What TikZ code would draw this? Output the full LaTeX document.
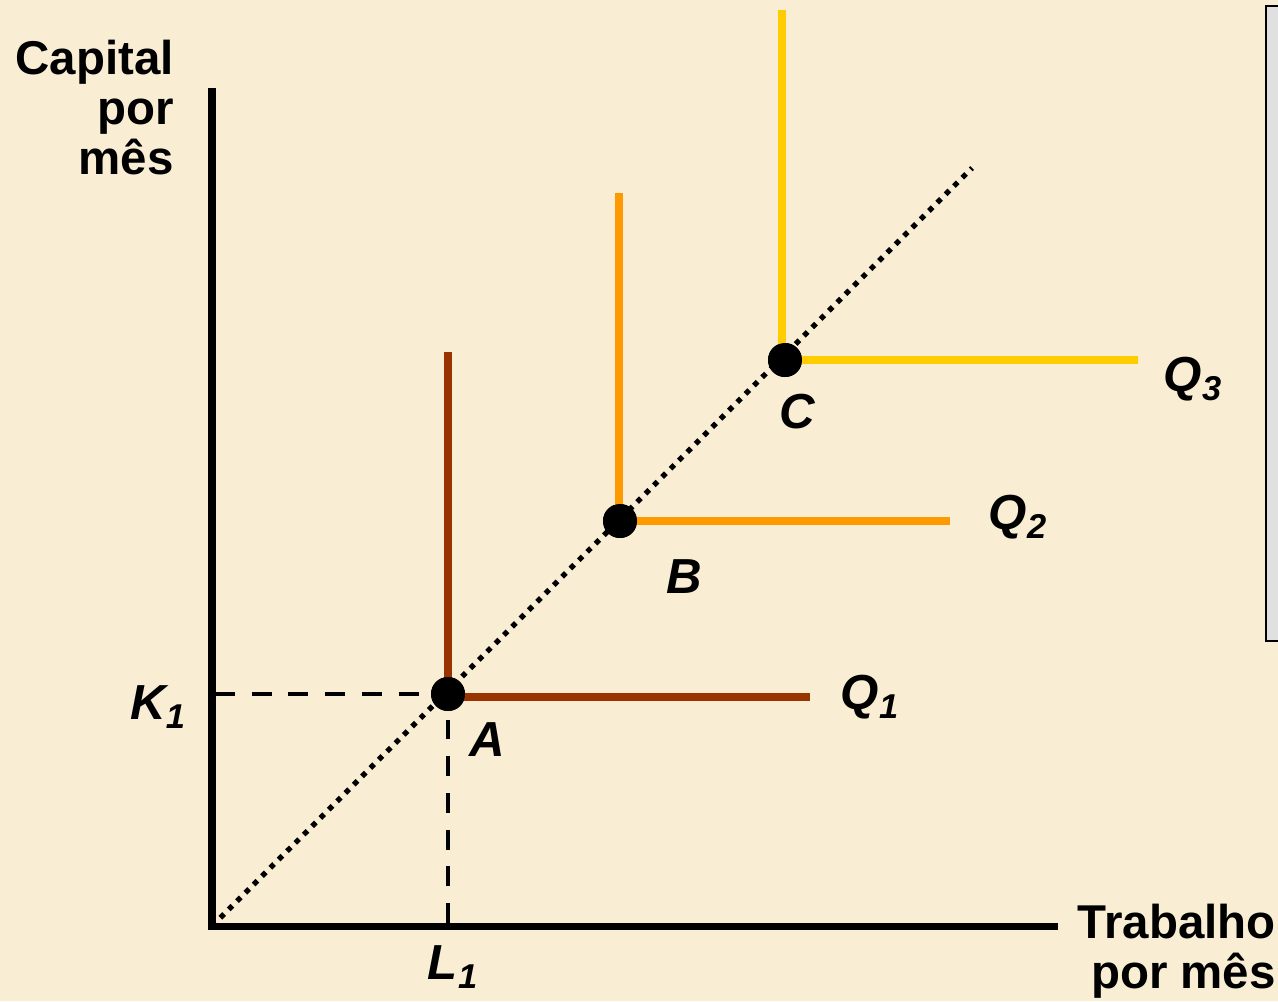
\documentclass[tikz,border=0pt]{standalone}
\usepackage{fontspec}
\setmainfont{Liberation Sans}
\usetikzlibrary{positioning}
\definecolor{paper}{HTML}{F9EED4}
\definecolor{qone}{HTML}{993300}
\definecolor{qtwo}{HTML}{FF9900}
\definecolor{qthree}{HTML}{FFCC00}
\definecolor{boxgray}{HTML}{E0E0E0}
\tikzset{
  axisline/.style={line width=4pt},
  isoq/.style={line width=4.5pt},
  guide/.style={line width=2.8pt,dash pattern=on 11.3pt off 9.6pt},
  ray/.style={line width=3pt,dash pattern=on 3pt off 3.7pt},
  pt/.style={circle,fill=black,inner sep=0pt,minimum size=6.8mm},
  lbl/.style={font=\fontsize{28}{30}\selectfont\bfseries\itshape,inner sep=0pt},
  ttl/.style={font=\fontsize{27}{28.5}\selectfont\bfseries,align=right,inner sep=0pt}
}
\begin{document}
\begin{tikzpicture}[x=0.2mm,y=-0.2mm]
\useasboundingbox[fill=paper] (0,0) rectangle (1278,1001);
% side box
\draw[fill=boxgray,line width=1.2pt] (1266,6) rectangle (1300,641);
% axes
\coordinate (o) at (212,926);
\coordinate (ytop) at (212,88);
\coordinate (xend) at (1058,926);
\coordinate (rayend) at (972,168);
\draw[axisline] (ytop) -- (o) -- (xend);
\node[ttl,anchor=north east] (ylab) at (174,40) {Capital\\por\\mês};
\node[ttl,anchor=north east] (xlab) at (1276,904) {Trabalho\\por mês};
% expansion ray
\draw[ray] (o) -- (rayend);
% points
\node[pt] (A) at (448,694) {};
\node[pt] (B) at (620,521) {};
\node[pt] (C) at (785,360) {};
% guides to the axes
\coordinate (k) at (215,694);
\coordinate (l) at (448,923);
\draw[guide] (k) -- (A.center);
\draw[guide] (l) -- (A.center);
% isoquants
\coordinate (a1) at (448,352);
\coordinate (a2) at (810,697);
\coordinate (b1) at (619,193);
\coordinate (b2) at (950,521);
\coordinate (c1) at (782,10);
\coordinate (c2) at (1138,360);
\draw[isoq,qone] (a1) -- (448,697) -- (a2);
\draw[isoq,qtwo] (b1) -- (619,521) -- (b2);
\draw[isoq,qthree] (c1) -- (782,360) -- (c2);
\node[pt] at (A) {};
\node[pt] at (B) {};
\node[pt] at (C) {};
% labels
\node[lbl] (Alab) at (487,740) {A};
\node[lbl] (Blab) at (684,577) {B};
\node[lbl] (Clab) at (797,412) {C};
\node[lbl] (q1) at (870,697) {Q\textsubscript{1}};
\node[lbl] (q2) at (1018,517) {Q\textsubscript{2}};
\node[lbl] (q3) at (1193,379) {Q\textsubscript{3}};
\node[lbl] (k1) at (158,707) {K\textsubscript{1}};
\node[lbl] (l1) at (453,967) {L\textsubscript{1}};
\end{tikzpicture}
\end{document}
